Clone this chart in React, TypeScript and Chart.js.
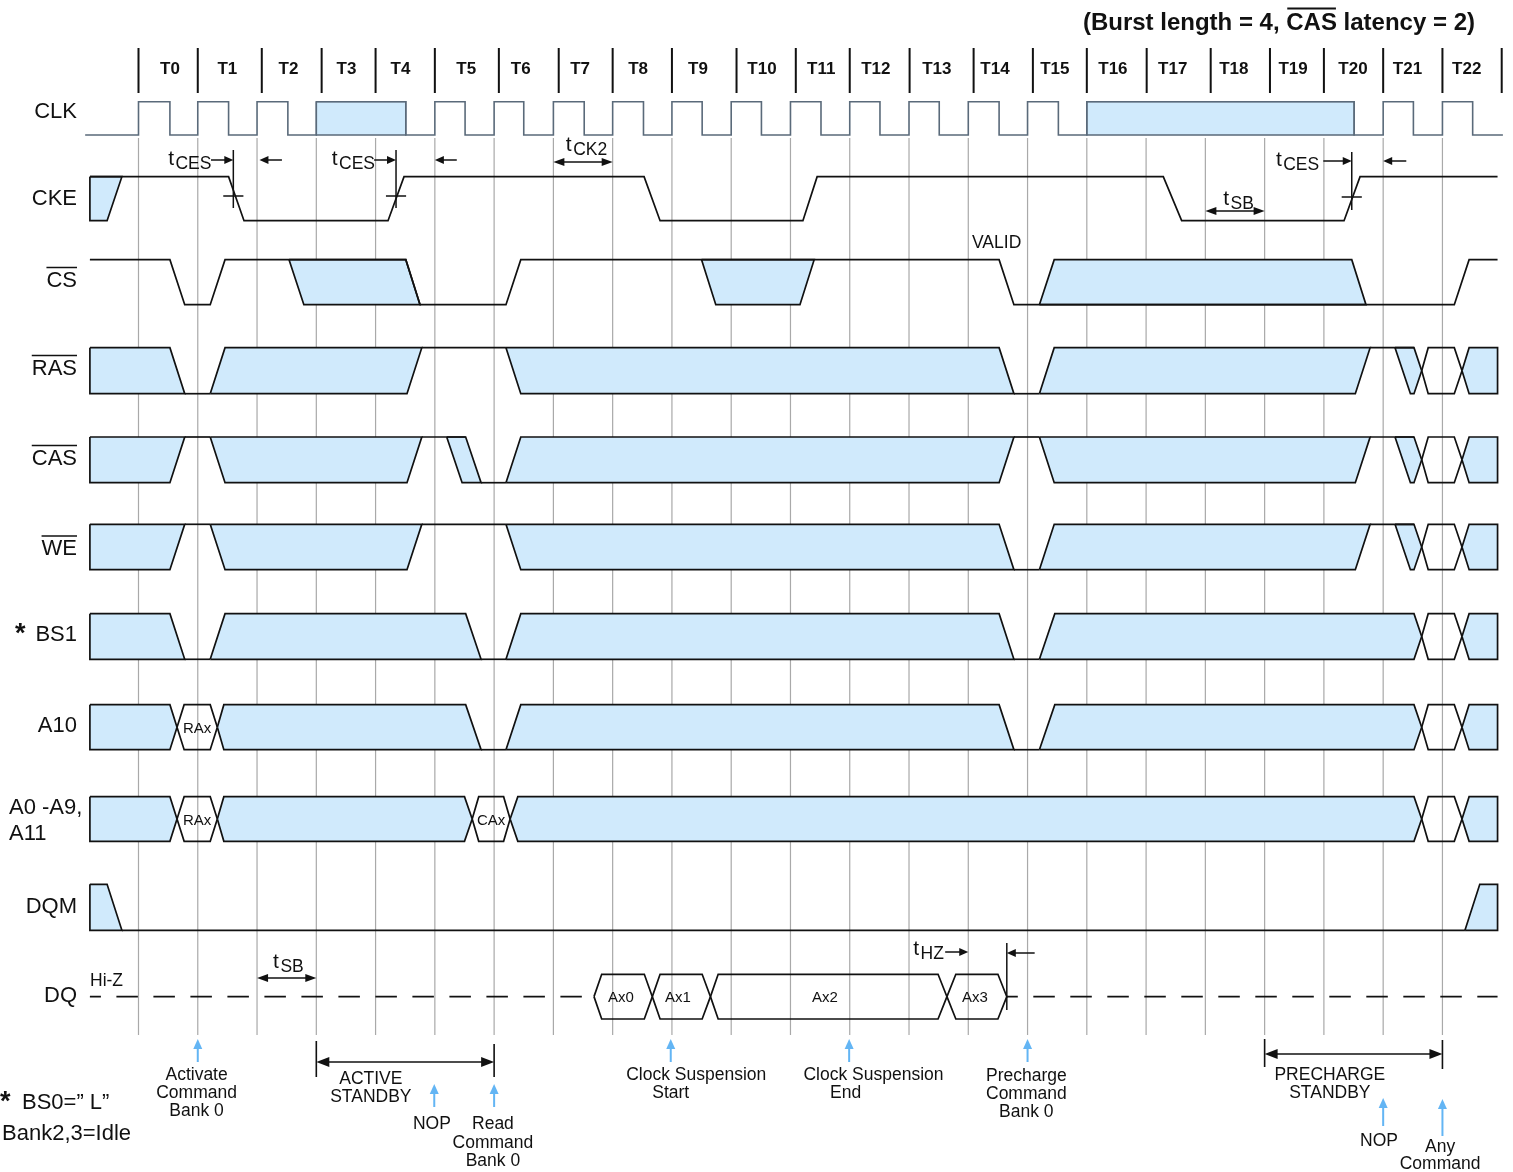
import React, { useEffect, useRef } from 'react';
import { Chart, registerables } from 'chart.js';

Chart.register(...registerables);

type Pt = [number, number];

// ---------------- data: times in clock cycles (T0 = 0), levels 1 = high, 0 = low, 0.5 = mid ----------------
const cycleLabels = ['T0', 'T1', 'T2', 'T3', 'T4', 'T5', 'T6', 'T7', 'T8', 'T9', 'T10', 'T11', 'T12', 'T13', 'T14', 'T15', 'T16', 'T17', 'T18', 'T19', 'T20', 'T21', 'T22'];
const cycleLabelAt = [0.53, 1.5, 2.53, 3.51, 4.42, 5.53, 6.45, 7.45, 8.43, 9.44, 10.52, 11.52, 12.44, 13.47, 14.45, 15.46, 16.44, 17.45, 18.48, 19.48, 20.49, 21.41, 22.41];
const cycleDividers = [0, 1, 2.08, 3.09, 4, 5, 6.08, 7.09, 8, 9, 10.09, 11.09, 12, 13.01, 14.09, 15.09, 16, 17.01, 18.09, 19.09, 20, 21, 22, 23];
const clockEdges = [0, 1, 2, 3, 4, 5, 6, 7, 8, 9, 10, 11, 12, 13, 14, 15, 16, 17, 18, 19, 20, 21, 22];

const clkSpan: Pt = [-0.9, 23.02];
const clkHigh: Pt[] = [[0, 0.53], [1, 1.52], [2, 2.52], [3, 4.51], [5, 5.51], [6, 6.5], [7, 7.52], [8, 8.52], [9, 9.51], [10, 10.51], [11, 11.515], [12, 12.51], [13, 13.51], [14, 14.52], [15, 15.52], [16, 20.51], [21, 21.51], [22, 22.51]];
const clkSuspended: Pt[] = [[3, 4.51], [16, 20.51]];

const ckeFills: Pt[][] = [[[-0.82, 1], [-0.28, 1], [-0.53, 0], [-0.82, 0]]];
const ckeLines: Pt[][] = [[[-0.82, 1], [1.52, 1], [1.78, 0], [4.21, 0], [4.48, 1], [8.53, 1], [8.8, 0], [11.21, 0], [11.45, 1], [17.29, 1], [17.6, 0], [20.34, 0], [20.61, 1], [22.93, 1]]];

const csFills: Pt[][] = [
  [[2.54, 1], [4.51, 1], [4.75, 0], [2.79, 0]],
  [[9.5, 1], [11.4, 1], [11.16, 0], [9.74, 0]],
  [[15.2, 0], [15.45, 1], [20.47, 1], [20.71, 0]],
];
const csLines: Pt[][] = [[[-0.82, 1], [0.53, 1], [0.78, 0], [1.21, 0], [1.46, 1], [4.51, 1], [4.75, 0], [6.2, 0], [6.45, 1], [14.52, 1], [14.77, 0], [22.2, 0], [22.45, 1], [22.93, 1]]];

const endValid: Pt[] = [[21.65, 0.5], [21.76, 1], [22.2, 1], [22.33, 0.5], [22.2, 0], [21.76, 0]];
const endDontCare: Pt[] = [[22.33, 0.5], [22.45, 1], [22.93, 1], [22.93, 0], [22.45, 0]];
const cmdRamp: Pt[] = [[21.2, 1], [21.52, 1], [21.65, 0.5], [21.52, 0], [21.46, 0]];

const rasFills: Pt[][] = [
  [[-0.82, 1], [0.53, 1], [0.78, 0], [-0.82, 0]],
  [[1.21, 0], [1.46, 1], [4.78, 1], [4.53, 0]],
  [[6.2, 1], [14.52, 1], [14.77, 0], [6.45, 0]],
  [[15.2, 0], [15.45, 1], [20.78, 1], [20.53, 0]],
  cmdRamp,
  endDontCare,
];
const rasLines: Pt[][] = [[[0.78, 0], [1.21, 0]], [[4.78, 1], [6.2, 1]], [[14.77, 0], [15.2, 0]], [[20.78, 1], [21.52, 1]]];

const casFills: Pt[][] = [
  [[-0.82, 1], [0.78, 1], [0.53, 0], [-0.82, 0]],
  [[1.21, 1], [4.78, 1], [4.53, 0], [1.46, 0]],
  [[5.2, 1], [5.52, 1], [5.78, 0], [5.46, 0]],
  [[6.2, 0], [6.45, 1], [14.77, 1], [14.52, 0]],
  [[15.2, 1], [20.78, 1], [20.53, 0], [15.45, 0]],
  cmdRamp,
  endDontCare,
];
const casLines: Pt[][] = [[[0.78, 1], [1.21, 1]], [[4.78, 1], [5.52, 1]], [[5.78, 0], [6.2, 0]], [[14.77, 1], [15.2, 1]], [[20.78, 1], [21.52, 1]]];

const weFills: Pt[][] = [
  [[-0.82, 1], [0.78, 1], [0.53, 0], [-0.82, 0]],
  [[1.21, 1], [4.78, 1], [4.53, 0], [1.46, 0]],
  [[6.2, 1], [14.52, 1], [14.77, 0], [6.45, 0]],
  [[15.2, 0], [15.45, 1], [20.78, 1], [20.53, 0]],
  cmdRamp,
  endDontCare,
];
const weLines: Pt[][] = [[[0.78, 1], [1.21, 1]], [[4.78, 1], [6.2, 1]], [[14.77, 0], [15.2, 0]], [[20.78, 1], [21.52, 1]]];

const bs1Fills: Pt[][] = [
  [[-0.82, 1], [0.53, 1], [0.78, 0], [-0.82, 0]],
  [[1.21, 0], [1.46, 1], [5.52, 1], [5.78, 0]],
  [[6.2, 0], [6.45, 1], [14.52, 1], [14.77, 0]],
  [[15.2, 0], [15.46, 1], [21.52, 1], [21.65, 0.5], [21.52, 0]],
  endDontCare,
];
const bs1Lines: Pt[][] = [[[0.78, 0], [1.21, 0]], [[5.78, 0], [6.2, 0]], [[14.77, 0], [15.2, 0]]];

const rowAddrValid: Pt[] = [[0.65, 0.5], [0.77, 1], [1.21, 1], [1.33, 0.5], [1.21, 0], [0.77, 0]];
const a10Fills: Pt[][] = [
  [[-0.82, 1], [0.53, 1], [0.65, 0.5], [0.53, 0], [-0.82, 0]],
  [[1.33, 0.5], [1.44, 1], [5.52, 1], [5.78, 0], [1.44, 0]],
  [[6.2, 0], [6.45, 1], [14.52, 1], [14.77, 0]],
  [[15.2, 0], [15.46, 1], [21.52, 1], [21.65, 0.5], [21.52, 0]],
  endDontCare,
];
const a10Lines: Pt[][] = [[[5.78, 0], [6.2, 0]], [[14.77, 0], [15.2, 0]]];

const addrFills: Pt[][] = [
  [[-0.82, 1], [0.53, 1], [0.65, 0.5], [0.53, 0], [-0.82, 0]],
  [[1.33, 0.5], [1.44, 1], [5.5, 1], [5.63, 0.5], [5.5, 0], [1.44, 0]],
  [[6.27, 0.5], [6.4, 1], [21.52, 1], [21.65, 0.5], [21.52, 0], [6.4, 0]],
  endDontCare,
];
const colAddrValid: Pt[] = [[5.63, 0.5], [5.74, 1], [6.16, 1], [6.27, 0.5], [6.16, 0], [5.74, 0]];

const dqmFills: Pt[][] = [[[-0.82, 1], [-0.53, 1], [-0.28, 0], [-0.82, 0]], [[22.38, 0], [22.63, 1], [22.93, 1], [22.93, 0]]];
const dqmLines: Pt[][] = [[[-0.28, 0], [22.38, 0]]];

const dqValid: Pt[][] = [
  [[7.685, 0.5], [7.815, 1], [8.534, 1], [8.669, 0.5], [8.534, 0], [7.815, 0]],
  [[8.669, 0.5], [8.8, 1], [9.51, 1], [9.65, 0.5], [9.51, 0], [8.8, 0]],
  [[9.65, 0.5], [9.78, 1], [13.49, 1], [13.64, 0.5], [13.49, 0], [9.78, 0]],
  [[13.64, 0.5], [13.79, 1], [14.5, 1], [14.65, 0.5], [14.5, 0], [13.79, 0]],
];
const dqHiZ: Pt[][] = [[[-0.82, 0.5], [7.48, 0.5]], [[14.65, 0.5], [22.93, 0.5]]];

const validNames = ['RAx', 'RAx', 'CAx', 'Ax0', 'Ax1', 'Ax2', 'Ax3'];
const validNameRows = ['A10', 'ADDR', 'ADDR', 'DQ', 'DQ', 'DQ', 'DQ'];
const validNameAt = [0.99, 0.99, 5.95, 8.14, 9.1, 11.58, 14.11];

const signalNames = ['CLK', 'CKE', 'CS', 'RAS', 'CAS', 'WE', 'BS1', 'A10', 'DQM', 'DQ'];
const activeLowNames = ['CS', 'RAS', 'CAS', 'WE'];
const titleParts = ['(Burst length = 4, ', 'CAS', ' latency = 2)'];

// timing parameters: subscript label, start (cycles)
const timingNames = ['CES', 'CES', 'CES', 'CK2', 'SB', 'SB', 'HZ'];
const timingNameAt = [0.5, 3.26, 19.19, 7.21, 18.3, 2.27, 13.07];
// arrows: [from, to] in cycles
const timingArrowSpans: Pt[] = [[1.223, 1.6], [2.42, 2.04], [3.975, 4.345], [5.37, 5.0], [19.99, 20.47], [21.39, 21.0], [7.0, 8.0], [18.0, 19.0], [2.0, 3.0], [13.61, 14.0], [15.12, 14.65]];
const timingArrowBoth = [false, false, false, false, false, false, true, true, true, false, false];
const timingMarkAt = [1.6, 4.345, 20.47, 14.65];

// command events
const eventAt = [1.0, 4.99, 6.0, 8.98, 11.99, 15.0, 21.0, 22.0];
const stateSpans: Pt[] = [[3.0, 6.0], [19.0, 22.0]];
const captionTexts = [
  ['Activate', 'Command', 'Bank 0'],
  ['ACTIVE', 'STANDBY'],
  ['NOP'],
  ['Read', 'Command', 'Bank 0'],
  ['Clock Suspension'],
  ['Start'],
  ['Clock Suspension'],
  ['End'],
  ['Precharge', 'Command', 'Bank 0'],
  ['PRECHARGE', 'STANDBY'],
  ['NOP'],
  ['Any', 'Command'],
];
const captionAt = [0.98, 3.92, 4.95, 5.98, 9.41, 8.98, 12.4, 11.93, 14.98, 20.1, 20.93, 21.96];

// ---------------- layout & style ----------------
const W = 1513;
const H = 1172;
const T0_PX = 138.5;
const CYCLE_PX = 59.27;
const FONT = "'Liberation Sans', Arial, Helvetica, sans-serif";
const INK = '#111111';
const FILL = '#d0eafc';
const GRID = '#a9a9a9';
const BLUE = '#63b5f4';
const CLK_INK = '#5a6a7a';
const DY = 1.5; // vertical nudge for middle-aligned text

const rowLayout: Record<string, { top: number; bottom: number; label: number }> = {
  CLK: { top: 101.7, bottom: 135, label: 110 },
  CKE: { top: 176.7, bottom: 220.7, label: 197.5 },
  CS: { top: 259.7, bottom: 304.7, label: 279 },
  RAS: { top: 347.7, bottom: 393.7, label: 367 },
  CAS: { top: 437, bottom: 482.7, label: 457 },
  WE: { top: 524.3, bottom: 569.7, label: 547.5 },
  BS1: { top: 613.7, bottom: 659.3, label: 633 },
  A10: { top: 704.7, bottom: 749.7, label: 724.5 },
  ADDR: { top: 796.7, bottom: 841.3, label: 819 },
  DQM: { top: 884.3, bottom: 930.3, label: 905 },
  DQ: { top: 974.3, bottom: 1019, label: 994 },
};

const timingBaseY = [165, 165, 166, 151, 205, 968, 955];
const timingArrowY = [160, 160, 160, 160, 161, 161, 162, 211, 978, 952, 953];
const timingMarkY: Pt[] = [[150, 208], [150, 208], [152, 210], [943, 1010]];
const timingCrossY = [196, 196, 197, null];
const eventArrowY: Pt[] = [[1062, 1039], [1107, 1084], [1107, 1084], [1062, 1039], [1062, 1039], [1062, 1039], [1126, 1098], [1136, 1099]];
const stateSpanY = [1062, 1054];
const stateTickY: Pt[][] = [[[1041, 1077], [1044, 1077]], [[1039, 1067], [1040, 1069]]];
const captionY = [
  [1073.5, 1092, 1110],
  [1078, 1096],
  [1123],
  [1123, 1141.5, 1160],
  [1073.5],
  [1092],
  [1073.5],
  [1092],
  [1075, 1093, 1111],
  [1074, 1092],
  [1140],
  [1146, 1163],
];

const signals = [
  { row: 'CKE', fills: ckeFills, valid: [] as Pt[][], lines: ckeLines },
  { row: 'CS', fills: csFills, valid: [] as Pt[][], lines: csLines },
  { row: 'RAS', fills: rasFills, valid: [endValid], lines: rasLines },
  { row: 'CAS', fills: casFills, valid: [endValid], lines: casLines },
  { row: 'WE', fills: weFills, valid: [endValid], lines: weLines },
  { row: 'BS1', fills: bs1Fills, valid: [endValid], lines: bs1Lines },
  { row: 'A10', fills: a10Fills, valid: [rowAddrValid, endValid], lines: a10Lines },
  { row: 'ADDR', fills: addrFills, valid: [rowAddrValid, colAddrValid, endValid], lines: [] as Pt[][] },
  { row: 'DQM', fills: dqmFills, valid: [] as Pt[][], lines: dqmLines },
  { row: 'DQ', fills: [] as Pt[][], valid: dqValid, lines: [] as Pt[][] },
];

function levelY(row: string, level: number) {
  const r = rowLayout[row];
  return r.bottom - level * (r.bottom - r.top);
}

function toPoints(row: string, pts: Pt[], close: boolean) {
  const arr = pts.map(([t, l]) => ({ x: t, y: levelY(row, l) }));
  if (close) arr.push({ ...arr[0] });
  return arr;
}

function buildDatasets() {
  const ds: any[] = [];
  const base = { pointRadius: 0, pointHoverRadius: 0, tension: 0, fill: false, borderColor: INK, borderWidth: 1.7, borderJoinStyle: 'miter' };
  clockEdges.forEach((n) => ds.push({ ...base, data: [{ x: n, y: 138 }, { x: n, y: 1035 }], borderColor: GRID, borderWidth: 1.2, order: 6 }));
  cycleDividers.forEach((n) => ds.push({ ...base, data: [{ x: n, y: 48 }, { x: n, y: 93 }], borderWidth: 2, order: 6 }));

  // clock
  clkSuspended.forEach(([a, b]) =>
    ds.push({ ...base, data: toPoints('CLK', [[a, 1], [b, 1], [b, 0], [a, 0]], true), fill: 'shape', backgroundColor: FILL, borderColor: CLK_INK, borderWidth: 1.3, order: 3 })
  );
  const clk: Pt[] = [[clkSpan[0], 0]];
  clkHigh.forEach(([r, f]) => clk.push([r, 0], [r, 1], [f, 1], [f, 0]));
  clk.push([clkSpan[1], 0]);
  ds.push({ ...base, data: toPoints('CLK', clk, false), borderColor: CLK_INK, borderWidth: 1.6, order: 2 });

  signals.forEach((s) => {
    s.fills.forEach((p) => ds.push({ ...base, data: toPoints(s.row, p, true), fill: 'shape', backgroundColor: FILL, order: 3 }));
    s.valid.forEach((p) => ds.push({ ...base, data: toPoints(s.row, p, true), order: 3 }));
    s.lines.forEach((p) => ds.push({ ...base, data: toPoints(s.row, p, false), order: 2 }));
  });
  dqHiZ.forEach((p) => ds.push({ ...base, data: toPoints('DQ', p, false), borderDash: [21.5, 15.5], borderDashOffset: 10.5, borderWidth: 1.6, order: 2 }));
  return ds;
}

function head(ctx: CanvasRenderingContext2D, x: number, y: number, ux: number, uy: number, len: number, half: number) {
  ctx.beginPath();
  ctx.moveTo(x, y);
  ctx.lineTo(x - ux * len - uy * half, y - uy * len + ux * half);
  ctx.lineTo(x - ux * len + uy * half, y - uy * len - ux * half);
  ctx.closePath();
  ctx.fill();
}

function arrow(ctx: CanvasRenderingContext2D, x1: number, y1: number, x2: number, y2: number, both: boolean, len: number, half: number) {
  const dx = x2 - x1;
  const dy = y2 - y1;
  const n = Math.hypot(dx, dy) || 1;
  const ux = dx / n;
  const uy = dy / n;
  ctx.beginPath();
  ctx.moveTo(both ? x1 + ux * len * 0.7 : x1, both ? y1 + uy * len * 0.7 : y1);
  ctx.lineTo(x2 - ux * len * 0.7, y2 - uy * len * 0.7);
  ctx.stroke();
  head(ctx, x2, y2, ux, uy, len, half);
  if (both) head(ctx, x1, y1, -ux, -uy, len, half);
}

const annotationPlugin = {
  id: 'timingAnnotations',
  afterDraw(chart: any) {
    const ctx: CanvasRenderingContext2D = chart.ctx;
    const X = (t: number) => chart.scales.x.getPixelForValue(t);
    const Y = (v: number) => chart.scales.y.getPixelForValue(v);
    ctx.save();
    ctx.fillStyle = INK;
    ctx.strokeStyle = INK;
    ctx.textBaseline = 'middle';

    // title
    ctx.font = `bold 24px ${FONT}`;
    ctx.textAlign = 'left';
    const tw = titleParts.map((s) => ctx.measureText(s).width);
    let tx = 1475 - tw.reduce((a, b) => a + b, 0);
    titleParts.forEach((s, i) => {
      ctx.fillText(s, tx, Y(22 + DY));
      if (i === 1) {
        ctx.lineWidth = 2;
        ctx.beginPath();
        ctx.moveTo(tx + 1, Y(8.5));
        ctx.lineTo(tx + tw[i] - 1, Y(8.5));
        ctx.stroke();
      }
      tx += tw[i];
    });

    // cycle labels
    ctx.font = `bold 17px ${FONT}`;
    ctx.textAlign = 'center';
    cycleLabels.forEach((s, i) => ctx.fillText(s, X(cycleLabelAt[i]), Y(68 + DY)));

    // signal names
    ctx.font = `22px ${FONT}`;
    ctx.textAlign = 'right';
    signalNames.forEach((name) => {
      const y = Y(rowLayout[name].label + DY);
      ctx.fillText(name, 77, y);
      if (activeLowNames.includes(name)) {
        const w = ctx.measureText(name).width;
        ctx.lineWidth = 1.5;
        ctx.beginPath();
        ctx.moveTo(77 - w, y - 13);
        ctx.lineTo(77, y - 13);
        ctx.stroke();
      }
    });
    ctx.textAlign = 'left';
    ctx.fillText('A0 -A9,', 9, Y(806 + DY));
    ctx.fillText('A11', 9, Y(832 + DY));
    ctx.font = `bold 27px ${FONT}`;
    ctx.textBaseline = 'alphabetic';
    ctx.fillText('*', 15, Y(642));
    ctx.fillText('*', 0, Y(1110));
    ctx.textBaseline = 'middle';

    // footnote
    ctx.font = `22px ${FONT}`;
    ctx.fillText('BS0=\u201D L\u201D', 22, Y(1101.5 + DY));
    ctx.fillText('Bank2,3=Idle', 2, Y(1132.5 + DY));

    // small notes
    ctx.font = `17.5px ${FONT}`;
    ctx.fillText('VALID', 972, Y(241.5 + DY));
    ctx.fillText('Hi-Z', 90, Y(980 + DY));

    // names inside valid windows
    ctx.font = `15px ${FONT}`;
    ctx.textAlign = 'center';
    validNames.forEach((s, i) => ctx.fillText(s, X(validNameAt[i]), levelY(validNameRows[i], 0.5) + DY));

    // timing parameter names
    ctx.textAlign = 'left';
    ctx.textBaseline = 'alphabetic';
    timingNames.forEach((sub, i) => {
      const x = X(timingNameAt[i]);
      const y = Y(timingBaseY[i]);
      ctx.font = `21px ${FONT}`;
      ctx.fillText('t', x, y);
      const w = ctx.measureText('t').width;
      ctx.font = `17.5px ${FONT}`;
      ctx.fillText(sub, x + w + 1.5, y + 4);
    });

    // timing arrows
    ctx.lineWidth = 1.5;
    timingArrowSpans.forEach(([a, b], i) => {
      const y = Y(timingArrowY[i]);
      arrow(ctx, X(a), y, X(b), y, timingArrowBoth[i], timingArrowBoth[i] ? 11 : 9, 4);
    });
    timingMarkAt.forEach((t, i) => {
      const x = X(t);
      ctx.beginPath();
      ctx.moveTo(x, Y(timingMarkY[i][0]));
      ctx.lineTo(x, Y(timingMarkY[i][1]));
      const c = timingCrossY[i];
      if (c !== null) {
        ctx.moveTo(X(t - 0.17), Y(c));
        ctx.lineTo(X(t + 0.17), Y(c));
      }
      ctx.stroke();
    });

    // state spans
    stateSpans.forEach(([a, b], i) => {
      ctx.lineWidth = 1.6;
      const y = Y(stateSpanY[i]);
      arrow(ctx, X(a), y, X(b), y, true, 13, 5);
      ctx.beginPath();
      ctx.moveTo(X(a), Y(stateTickY[i][0][0]));
      ctx.lineTo(X(a), Y(stateTickY[i][0][1]));
      ctx.moveTo(X(b), Y(stateTickY[i][1][0]));
      ctx.lineTo(X(b), Y(stateTickY[i][1][1]));
      ctx.stroke();
    });

    // event arrows (blue)
    ctx.fillStyle = BLUE;
    ctx.strokeStyle = BLUE;
    ctx.lineWidth = 2;
    eventAt.forEach((t, i) => {
      const x = X(t);
      arrow(ctx, x, Y(eventArrowY[i][0]), x, Y(eventArrowY[i][1]), false, 10, 4.5);
    });

    // captions
    ctx.fillStyle = INK;
    ctx.font = `17.5px ${FONT}`;
    ctx.textAlign = 'center';
    ctx.textBaseline = 'middle';
    captionTexts.forEach((lines, i) => {
      lines.forEach((s, j) => ctx.fillText(s, X(captionAt[i]), Y(captionY[i][j] + DY)));
    });
    ctx.restore();
  },
};

export default function App() {
  const ref = useRef<HTMLCanvasElement>(null);
  useEffect(() => {
    const canvas = ref.current;
    if (!canvas) return;
    const chart = new Chart(canvas, {
      type: 'line',
      data: { datasets: buildDatasets() },
      options: {
        animation: false,
        responsive: false,
        devicePixelRatio: 1,
        events: [],
        layout: { padding: 0 },
        plugins: { legend: { display: false }, tooltip: { enabled: false }, title: { display: false } },
        scales: {
          x: { type: 'linear', min: -T0_PX / CYCLE_PX, max: (W - T0_PX) / CYCLE_PX, display: false },
          y: { type: 'linear', min: 0, max: H, reverse: true, display: false },
        },
      } as any,
      plugins: [annotationPlugin],
    });
    return () => chart.destroy();
  }, []);
  return (
    <div style={{ position: 'absolute', left: 0, top: 0, width: W, height: H, background: '#ffffff' }}>
      <canvas ref={ref} width={W} height={H} style={{ width: W, height: H, display: 'block' }} />
    </div>
  );
}
